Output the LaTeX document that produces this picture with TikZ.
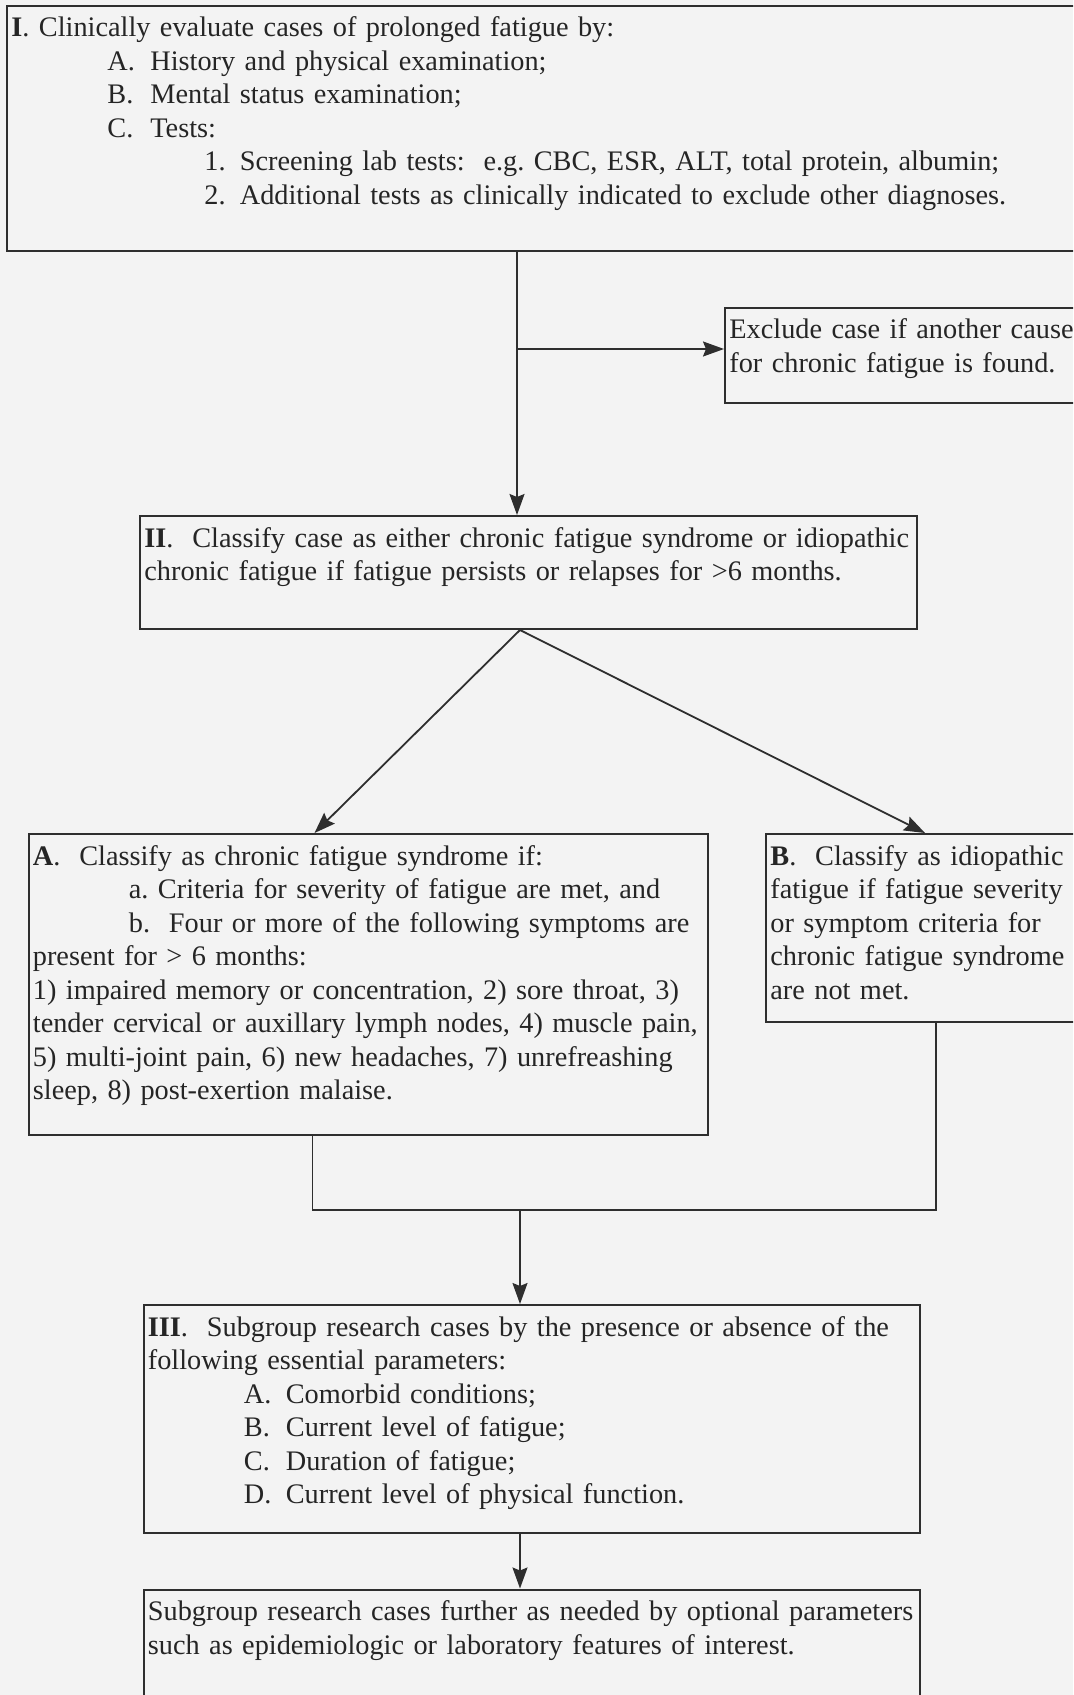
\documentclass[tikz,border=0pt]{standalone}
\usepackage{fontspec}
\setmainfont{Liberation Serif}
\usetikzlibrary{arrows.meta}
\definecolor{paper}{HTML}{F3F3F3}
\definecolor{ink}{HTML}{2E2E2E}
\newcommand{\hangitem}[3]{\hspace*{#1}\makebox[#2][l]{#3}}
\tikzset{
  box/.style={draw=ink, line width=1pt, inner sep=0pt, anchor=north west},
  txt/.style={anchor=base west, inner sep=0pt, text width=560pt, align=left,
    text=ink!80!black, font=\fontsize{14.15}{16.75}\selectfont\frenchspacing},
  arrow/.style={draw=ink, line width=0.9pt, -{Stealth[length=10.5pt,width=7.5pt,inset=1.5pt]}},
  link/.style={draw=ink, line width=0.9pt}
}

\begin{document}
\begin{tikzpicture}[x=0.5pt,y=-0.5pt]
   \useasboundingbox (0,0) rectangle (1073,1695);
   \clip (0,0) rectangle (1073,1695);
   \fill[paper] (0,0) rectangle (1073,1695);

   \node[box, minimum width=542pt, minimum height=122.5pt] (evalBox) at (6,5) {};
   \node[txt] (evalText) at ([shift={(5,32)}]evalBox.north west) {%
     \textbf{I}. Clinically evaluate cases of prolonged fatigue by:\\
     \hangitem{48pt}{21.5pt}{A.}History and physical examination;\\
     \hangitem{48pt}{21.5pt}{B.}Mental status examination;\\
     \hangitem{48pt}{21.5pt}{C.}Tests:\\
     \hangitem{96.5pt}{17.75pt}{1.}Screening lab tests:~~e.g. CBC, ESR, ALT, total protein, albumin;\\
     \hangitem{96.5pt}{17.75pt}{2.}Additional tests as clinically indicated to exclude other diagnoses.};

   \node[box, minimum width=183pt, minimum height=47.5pt] (excludeBox) at (724,307) {};
   \node[txt] (excludeText) at ([shift={(5,32)}]excludeBox.north west) {%
     Exclude case if another cause\\
     for chronic fatigue is found.};

   \node[box, minimum width=388.5pt, minimum height=56.5pt] (classBox) at (139,515) {};
   \node[txt] (classText) at ([shift={(5,32)}]classBox.north west) {%
     \textbf{II}.~~Classify case as either chronic fatigue syndrome or idiopathic\\
     chronic fatigue if fatigue persists or relapses for >6 months.};

   \node[box, minimum width=339.7pt, minimum height=150.3pt] (synBox) at (27.5,833) {};
   \node[txt] (synText) at ([shift={(5,32)}]synBox.north west) {%
     \textbf{A}.~~Classify as chronic fatigue syndrome if:\\
     \hspace*{48pt}a. Criteria for severity of fatigue are met, and\\
     \hspace*{48pt}b.~~Four or more of the following symptoms are\\
     present for > 6 months:\\
     1) impaired memory or concentration, 2) sore throat, 3)\\
     tender cervical or auxillary lymph nodes, 4) muscle pain,\\
     5) multi-joint pain, 6) new headaches, 7) unrefreashing\\
     sleep, 8) post-exertion malaise.};

   \node[box, minimum width=162.5pt, minimum height=94pt] (idioBox) at (765,833) {};
   \node[txt] (idioText) at ([shift={(5,32)}]idioBox.north west) {%
     \textbf{B}.~~Classify as idiopathic\\
     fatigue if fatigue severity\\
     or symptom criteria for\\
     chronic fatigue syndrome\\
     are not met.};

   \node[box, minimum width=388pt, minimum height=114pt] (subBox) at (142.5,1304) {};
   \node[txt] (subText) at ([shift={(5,32)}]subBox.north west) {%
     \textbf{III}.~~Subgroup research cases by the presence or absence of the\\
     following essential parameters:\\
     \hangitem{48pt}{21pt}{A.}Comorbid conditions;\\
     \hangitem{48pt}{21pt}{B.}Current level of fatigue;\\
     \hangitem{48pt}{21pt}{C.}Duration of fatigue;\\
     \hangitem{48pt}{21pt}{D.}Current level of physical function.};

   \node[box, minimum width=388pt, minimum height=61pt] (furtherBox) at (142.5,1588.5) {};
   \node[txt] (furtherText) at ([shift={(5,32)}]furtherBox.north west) {%
     Subgroup research cases further as needed by optional parameters\\
     such as epidemiologic or laboratory features of interest.};

   \coordinate (branch) at (517,349);
   \coordinate (split) at ([shift={(381,0)}]classBox.south west);
   \coordinate (join) at (520,1210);

   \draw[arrow] (evalBox.south -| branch) -- (branch |- classBox.north);
   \draw[arrow] (branch) -- (branch -| excludeBox.west);
   \draw[arrow] (split) -- ([shift={(287,0)}]synBox.north west);
   \draw[arrow] (split) -- ([shift={(160,0)}]idioBox.north west);
   \draw[link] ([shift={(285,0)}]synBox.south west) |- (join)
      -| ([shift={(171,0)}]idioBox.south west);
   \draw[arrow] (join) -- (join |- subBox.north);
   \draw[arrow] (join |- subBox.south) -- (join |- furtherBox.north);
\end{tikzpicture}
\end{document}
